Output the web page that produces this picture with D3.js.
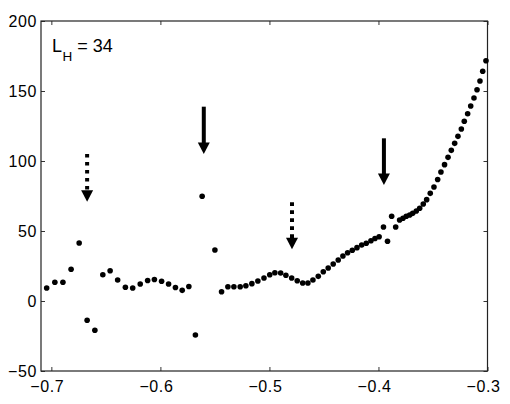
<!DOCTYPE html>
<html>
<head>
<meta charset="utf-8">
<script src="https://cdn.jsdelivr.net/npm/d3@7"></script>
<style>
  html, body { margin: 0; padding: 0; background: #fff; }
  svg { display: block; font-family: "Liberation Sans", Arial, Helvetica, sans-serif; }
</style>
</head>
<body>
<svg id="chart" width="510" height="404"></svg>
<script>
// ---- data ----
const xValues = [
  -0.7043, -0.6968, -0.6894, -0.6819, -0.6745, -0.6672, -0.6601, -0.6528, -0.6461, -0.6392,
  -0.6321, -0.6254, -0.6185, -0.6117, -0.6055, -0.5989, -0.5925, -0.5862, -0.5800, -0.5739,
  -0.5679, -0.5617, -0.5500, -0.5439, -0.5381, -0.5326, -0.5268, -0.5216, -0.5161, -0.5106,
  -0.5050, -0.4997, -0.4950, -0.4897, -0.4849, -0.4796, -0.4745, -0.4695, -0.4647, -0.4601,
  -0.4552, -0.4506, -0.4461, -0.4415, -0.4369, -0.4326, -0.4283, -0.4240, -0.4197, -0.4154,
  -0.4112, -0.4069, -0.4032, -0.3994, -0.3954, -0.3917, -0.3879, -0.3842, -0.3806, -0.3775,
  -0.3745, -0.3714, -0.3686, -0.3653, -0.3622, -0.3589, -0.3558, -0.3525, -0.3491, -0.3457,
  -0.3427, -0.3394, -0.3362, -0.3332, -0.3301, -0.3271, -0.3240, -0.3213, -0.3182, -0.3154,
  -0.3124, -0.3096, -0.3069, -0.3044, -0.3014
];
const yValues = [
  9.3, 13.4, 13.4, 22.7, 41.4, -13.8, -20.9, 18.8, 21.6, 15.0,
  9.8, 9.3, 12.1, 14.6, 15.4, 14.1, 12.1, 9.6, 7.6, 10.4,
  -24.3, 74.8, 36.4, 6.6, 10.2, 10.2, 10.2, 10.9, 12.4, 14.3,
  16.4, 18.7, 20.2, 20.0, 18.4, 16.4, 14.5, 12.9, 12.9, 15.0,
  17.6, 20.9, 23.6, 26.4, 29.3, 32.1, 34.5, 36.2, 38.1, 40.0,
  41.2, 43.0, 44.6, 45.9, 52.9, 42.7, 60.5, 52.9, 57.9, 59.1,
  60.5, 61.4, 62.6, 64.3, 66.2, 69.3, 72.4, 76.9, 81.4, 86.8,
  92.1, 97.4, 102.6, 107.6, 112.6, 117.6, 122.9, 128.4, 133.8, 139.3,
  145.0, 150.9, 157.1, 164.1, 171.6
];
const xTicks = [-0.7, -0.6, -0.5, -0.4, -0.3];
const yTicks = [-50, 0, 50, 100, 150, 200];
// arrows: x position, top of shaft, tip, dashed?
const arrowX = [-0.6672, -0.5602, -0.4793, -0.3950];
const arrowTop = [105, 138.8, 70.5, 116.2];
const arrowTip = [70.9, 105, 36.9, 82.9];
const arrowDashed = [true, false, true, false];
const labelMain = "L";
const labelSub = "H";
const labelRest = " = 34";

// ---- layout ----
const mLeft = 41, mRight = 487.5, mTop = 21, mBottom = 371;
const svg = d3.select("#chart");
const x = d3.scaleLinear().domain([-0.7095, -0.3]).range([mLeft, mRight]);
const y = d3.scaleLinear().domain([-50, 200]).range([mBottom, mTop]);

const tickLen = 4;
const fontSize = 16;

function styleAxis(g) {
  g.select(".domain").remove();
  g.selectAll(".tick line").attr("stroke", "#333").attr("stroke-width", 1);
  g.selectAll(".tick text")
    .attr("fill", "#000")
    .attr("font-size", fontSize)
    .attr("font-family", "'Liberation Sans', Arial, sans-serif")
    .style("letter-spacing", "0.6px");
}

// bottom
svg.append("g")
  .attr("transform", `translate(0,${mBottom})`)
  .call(d3.axisBottom(x).tickValues(xTicks).tickFormat(d3.format(".1f"))
    .tickSizeInner(-tickLen).tickSizeOuter(0).tickPadding(9.5))
  .call(styleAxis)
  .call(g => g.selectAll(".tick text").attr("dx", -4.5));
// top
svg.append("g")
  .attr("transform", `translate(0,${mTop})`)
  .call(d3.axisTop(x).tickValues(xTicks).tickFormat("")
    .tickSizeInner(-tickLen).tickSizeOuter(0))
  .call(styleAxis);
// left
svg.append("g")
  .attr("transform", `translate(${mLeft},0)`)
  .call(d3.axisLeft(y).tickValues(yTicks).tickFormat(d3.format("d"))
    .tickSizeInner(-tickLen).tickSizeOuter(0).tickPadding(4))
  .call(styleAxis);
// right
svg.append("g")
  .attr("transform", `translate(${mRight},0)`)
  .call(d3.axisRight(y).tickValues(yTicks).tickFormat("")
    .tickSizeInner(-tickLen).tickSizeOuter(0))
  .call(styleAxis);

// frame
svg.append("rect")
  .attr("x", mLeft).attr("y", mTop)
  .attr("width", mRight - mLeft).attr("height", mBottom - mTop)
  .attr("fill", "none").attr("stroke", "#222").attr("stroke-width", 1.2);

// points
const pts = xValues.map((v, i) => ({ x: v, y: yValues[i] }));
svg.append("g").selectAll("circle")
  .data(pts)
  .join("circle")
  .attr("cx", d => x(d.x))
  .attr("cy", d => y(d.y))
  .attr("r", 2.8)
  .attr("fill", "#000");

// arrows
const arrows = arrowX.map((v, i) => ({ x: v, top: arrowTop[i], tip: arrowTip[i], dashed: arrowDashed[i] }));
const headH = 11.5, headW = 6;
const ag = svg.append("g");
arrows.forEach(a => {
  const cx = x(a.x), ty = y(a.top), tip = y(a.tip);
  ag.append("line")
    .attr("x1", cx).attr("x2", cx)
    .attr("y1", ty).attr("y2", tip - headH + 1)
    .attr("stroke", "#000")
    .attr("stroke-width", 4)
    .attr("stroke-dasharray", a.dashed ? "3.6,4.4" : null);
  ag.append("path")
    .attr("d", `M${cx - headW},${tip - headH} L${cx + headW},${tip - headH} L${cx},${tip} Z`)
    .attr("fill", "#000");
});

// label
const lbl = svg.append("text")
  .attr("x", 52)
  .attr("y", 52)
  .attr("font-size", 18)
  .attr("fill", "#000");
lbl.append("tspan").text(labelMain);
lbl.append("tspan").attr("font-size", 13.5).attr("dy", 8.5).attr("dx", 0.5).text(labelSub);
lbl.append("tspan").attr("dy", -8.5).style("white-space", "pre").text(labelRest);
</script>
</body>
</html>
